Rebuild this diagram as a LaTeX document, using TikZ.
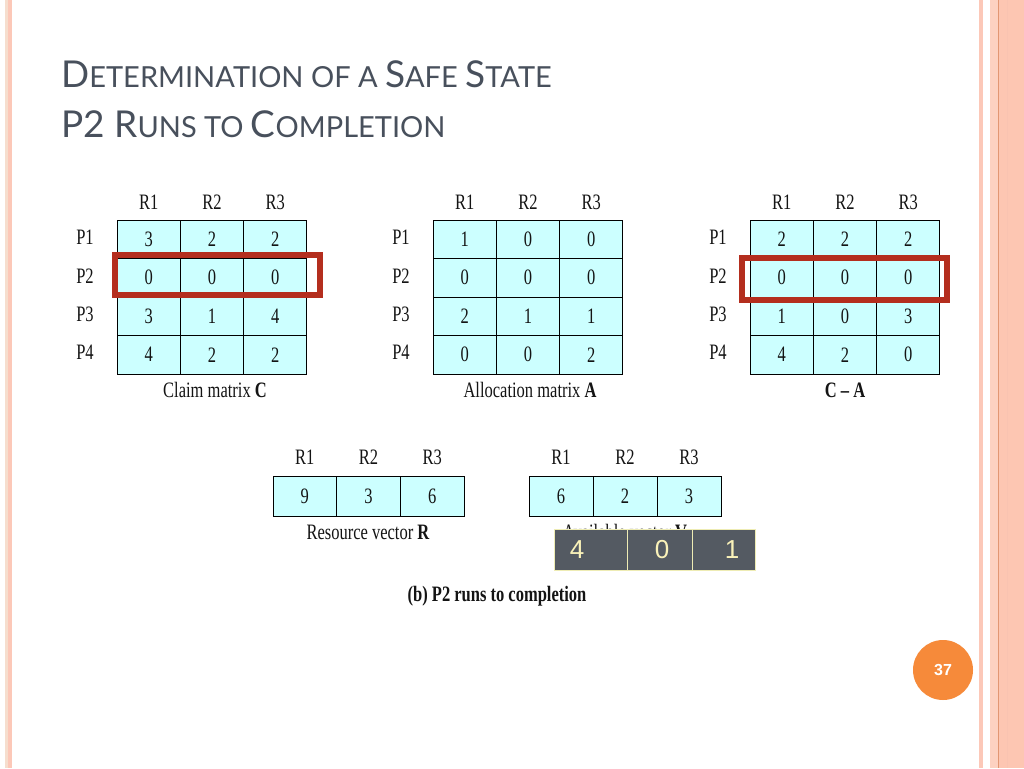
\documentclass[tikz,border=0pt]{standalone}
\usepackage{fontspec}
\usepackage{graphicx}
\setmainfont{Liberation Serif}
\newfontfamily\titlefont{Lato}
\newfontfamily\arialfont{Liberation Sans}
\definecolor{cellcyan}{RGB}{204,255,255}
\definecolor{boxred}{RGB}{180,46,30}
\definecolor{titlegray}{RGB}{72,80,92}
\definecolor{ovfill}{RGB}{84,90,98}
\definecolor{ovline}{RGB}{238,236,180}
\definecolor{ovtext}{RGB}{250,242,185}
\definecolor{pgorange}{RGB}{246,138,58}
\definecolor{bpink}{RGB}{252,200,184}
\definecolor{bbeige}{RGB}{246,222,206}
\definecolor{bsalmon}{RGB}{253,198,178}
\definecolor{bline}{RGB}{226,150,115}
\definecolor{txt}{RGB}{20,20,20}
\newcommand\bigc[1]{{\fontsize{37}{37}\selectfont #1}}
\newcommand\smc[1]{{\fontsize{29}{29}\selectfont #1}}
\newcommand\sq[1]{\scalebox{0.75}[1]{#1}}
\begin{document}
\begin{tikzpicture}[x=1pt,y=-1pt,
  cellbox/.style={draw=black, line width=0.9pt, fill=cellcyan, minimum width=63.3pt, minimum height=38.5pt, inner sep=0pt, text=txt, font=\fontsize{22}{22}\selectfont},
  vecbox/.style={draw=black, line width=0.9pt, fill=cellcyan, minimum width=64pt, minimum height=40pt, inner sep=0pt, text=txt, font=\fontsize{22}{22}\selectfont},
  lab/.style={inner sep=0pt, text=txt, font=\fontsize{22}{22}\selectfont},
  redbox/.style={draw=boxred, line width=6pt},
  ovcell/.style={draw=ovline, line width=0.8pt, fill=ovfill, inner sep=0pt},
  ovnum/.style={inner sep=0pt, text=ovtext, font=\arialfont\fontsize{26}{26}\selectfont}
]
\useasboundingbox (0,0) rectangle (1024,768);
\fill[white] (0,0) rectangle (1024,768);
% borders
\fill[bbeige] (5,0) rectangle (7.5,768);
\fill[bpink] (7.5,0) rectangle (12,768);
\fill[bpink] (979,0) rectangle (983,768);
\fill[bsalmon!80!white] (990,0) rectangle (998,768);
\fill[bsalmon] (998,0) rectangle (1024,768);
\draw[bline, line width=1pt] (998.5,0) -- (998.5,768);
\draw[bpink!90!bline, line width=0.8pt] (1007,0) -- (1007,768);
% title
\node[anchor=base west, inner sep=0pt, text=titlegray, font=\titlefont] (t1) at (61,87)
  {\bigc{D}\smc{ETERMINATION OF A }\bigc{S}\smc{AFE }\bigc{S}\smc{TATE}};
\node[anchor=base west, inner sep=0pt, text=titlegray, font=\titlefont] (t2) at (61,137)
  {\bigc{P2 R}\smc{UNS TO }\bigc{C}\smc{OMPLETION}};
% claim matrix
\foreach \row [count=\i] in {{3,2,2},{0,0,0},{3,1,4},{4,2,2}} {
  \foreach \v [count=\j] in \row {
    \node[cellbox] (c-\i-\j) at ({117+(\j-0.5)*63.3},{220+(\i-0.5)*38.5}) {\sq{\v}};
  }
}
% allocation matrix
\foreach \row [count=\i] in {{1,0,0},{0,0,0},{2,1,1},{0,0,2}} {
  \foreach \v [count=\j] in \row {
    \node[cellbox] (a-\i-\j) at ({433+(\j-0.5)*63.3},{220+(\i-0.5)*38.5}) {\sq{\v}};
  }
}
% C - A matrix
\foreach \row [count=\i] in {{2,2,2},{0,0,0},{1,0,3},{4,2,0}} {
  \foreach \v [count=\j] in \row {
    \node[cellbox] (d-\i-\j) at ({750+(\j-0.5)*63.3},{220+(\i-0.5)*38.5}) {\sq{\v}};
  }
}
% row and column labels
\foreach \m/\x in {c/117,a/433,d/750} {
  \foreach \p [count=\i] in {P1,P2,P3,P4} {
    \node[lab] (\m-p\i) at ({\x-32},{218+(\i-0.5)*38.5}) {\sq{\p}};
  }
  \foreach \r [count=\j] in {R1,R2,R3} {
    \node[lab] (\m-r\j) at ({\x+(\j-0.5)*63.3},202) {\sq{\r}};
  }
}
\node[lab] (capc) at (215,390) {\sq{Claim matrix \textbf{C}}};
\node[lab] (capa) at (530,390) {\sq{Allocation matrix \textbf{A}}};
\node[lab] (capd) at (845,390) {\sq{\textbf{C – A}}};
% red highlight boxes
\draw[redbox] (114.5,254.5) rectangle (320,295);
\draw[redbox] (741.5,257.5) rectangle (947,300);
% resource vector
\foreach \v [count=\j] in {9,3,6} {
  \node[vecbox, minimum width=63.7pt] (rv-\j) at ({273+(\j-0.5)*63.7},496) {\sq{\v}};
  \node[lab] (rv-r\j) at ({273+(\j-0.5)*63.7},457) {\sq{R\j}};
}
\node[lab] (caprv) at (368,532) {\sq{Resource vector \textbf{R}}};
% available vector
\foreach \v [count=\j] in {6,2,3} {
  \node[vecbox] (av-\j) at ({529+(\j-0.5)*64},496) {\sq{\v}};
  \node[lab] (av-r\j) at ({529+(\j-0.5)*64},457) {\sq{R\j}};
}
\node[lab] (capav) at (625,532) {\sq{Available vector \textbf{V}}};
% overlay row (covers most of the label above)
\node[ovcell, minimum width=73pt, minimum height=41pt] (ov-1) at (590.5,549.5) {};
\node[ovcell, minimum width=65pt, minimum height=41pt] (ov-2) at (659.5,549.5) {};
\node[ovcell, minimum width=63pt, minimum height=41pt] (ov-3) at (723.5,549.5) {};
\node[ovnum] (on-1) at (577,550) {4};
\node[ovnum] (on-2) at (662,550) {0};
\node[ovnum] (on-3) at (732,550) {1};
% caption
\node[lab] (capb) at (497,596) {\sq{\textbf{(b) P2 runs to completion}}};
% page number
\node[circle, fill=pgorange, minimum size=60pt, inner sep=0pt, text=white, font=\arialfont\bfseries\fontsize{16}{16}\selectfont] (pg) at (943,670) {37};
\end{tikzpicture}
\end{document}
